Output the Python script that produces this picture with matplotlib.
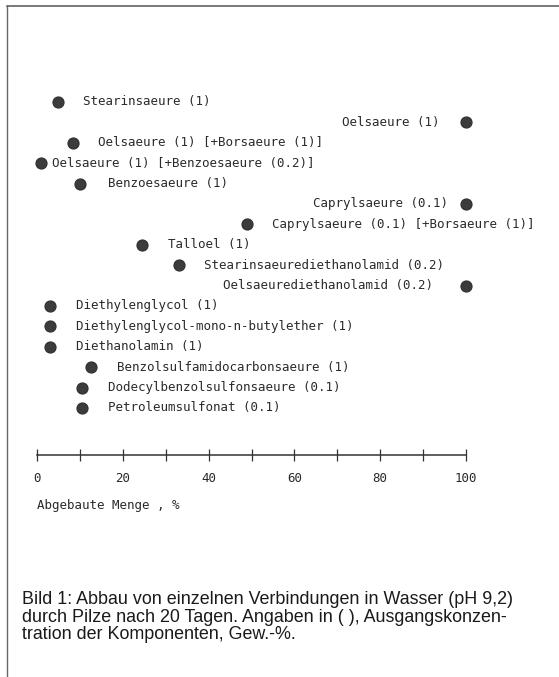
import numpy as np
import matplotlib
matplotlib.use('Agg')
from matplotlib import pyplot as plt
from matplotlib.lines import Line2D
from matplotlib.ticker import FixedLocator

# Abbau in Wasser durch Pilze, Angaben in %
namen = [
    'Stearinsaeure (1)',
    'Oelsaeure (1)',
    'Oelsaeure (1) [+Borsaeure (1)]',
    'Oelsaeure (1) [+Benzoesaeure (0.2)]',
    'Benzoesaeure (1)',
    'Caprylsaeure (0.1)',
    'Caprylsaeure (0.1) [+Borsaeure (1)]',
    'Talloel (1)',
    'Stearinsaeurediethanolamid (0.2)',
    'Oelsaeurediethanolamid (0.2)',
    'Diethylenglycol (1)',
    'Diethylenglycol-mono-n-butylether (1)',
    'Diethanolamin (1)',
    'Benzolsulfamidocarbonsaeure (1)',
    'Dodecylbenzolsulfonsaeure (0.1)',
    'Petroleumsulfonat (0.1)',
]
abbau = [5, 100, 8.5, 1, 10, 100, 49, 24.5, 33, 100, 3, 3, 3, 12.5, 10.5, 10.5]

# Beschriftung links oder rechts vom Punkt, Abstand in pt
seite = ['r', 'l', 'r', 'r', 'r', 'l', 'r', 'r', 'r', 'l', 'r', 'r', 'r', 'r', 'r', 'r']
abstand = [18, 19, 18, 8, 20, 13, 18, 19, 18, 24, 19, 19, 19, 19, 19, 19]

ticks_major = [0, 20, 40, 60, 80, 100]
ticks_minor = [10, 30, 50, 70, 90]

W, H = 559, 677
fig = plt.figure(figsize=(W / 100, H / 100), dpi=100)
fig.patch.set_facecolor('white')

# Rahmen oben und links
fig.add_artist(Line2D([7 / W, 1], [1 - 6 / H, 1 - 6 / H], color='#555555', lw=1.1))
fig.add_artist(Line2D([7 / W, 7 / W], [0, 1 - 6 / H], color='#666666', lw=1.0))

ax = fig.add_axes([0, 0, 1, 1])
ax.patch.set_alpha(0)
pxu = 4.29          # Pixel pro %
zeile = 20.4        # Pixel pro Zeile
ax.set_xlim(-37 / pxu, (W - 37) / pxu)
ax.set_ylim((H - 102) / zeile, -102 / zeile)

mono = dict(family='DejaVu Sans Mono', fontsize=9.0, color='#2a2a2a')

y = np.arange(len(namen))
ax.plot(abbau, y, 'o', ms=7.8, color='#3c3c3c', mec='#333333')

for xi, yi, txt, s, d in zip(abbau, y, namen, seite, abstand):
    if s == 'r':
        ax.annotate(txt, (xi, yi), xytext=(d, 0), textcoords='offset points',
                    ha='left', va='center', **mono)
    else:
        ax.annotate(txt, (xi, yi), xytext=(-d, 0), textcoords='offset points',
                    ha='right', va='center', **mono)

# Skala
for sp in ['top', 'right', 'left']:
    ax.spines[sp].set_visible(False)
ax.spines['bottom'].set_position(('data', (455 - 102) / zeile))
ax.spines['bottom'].set_bounds(0, 100)
ax.spines['bottom'].set_color('#333333')
ax.spines['bottom'].set_linewidth(1.1)
ax.set_yticks([])
ax.set_xticks(ticks_major)
ax.set_xticklabels([str(t) for t in ticks_major])
ax.xaxis.set_minor_locator(FixedLocator(ticks_minor))
ax.tick_params(axis='x', which='both', direction='inout', length=8, width=0.9,
               color='#333333', pad=8.5)
for lab in ax.get_xticklabels():
    lab.set_fontfamily('DejaVu Sans Mono')
    lab.set_fontsize(9.0)
    lab.set_color('#2a2a2a')
ax.text(0, (505 - 102) / zeile, 'Abgebaute Menge , %', ha='left', va='center', **mono)

caption = ('Bild 1: Abbau von einzelnen Verbindungen in Wasser (pH 9,2)\n'
           'durch Pilze nach 20 Tagen. Angaben in ( ), Ausgangskonzen-\n'
           'tration der Komponenten, Gew.-%.')
fig.text(22 / W, 1 - 591 / H, caption, ha='left', va='top', family='Liberation Sans',
         fontsize=12.9, color='#1a1a1a', linespacing=1.04)

fig.savefig('out.png', dpi=100, facecolor='white')
